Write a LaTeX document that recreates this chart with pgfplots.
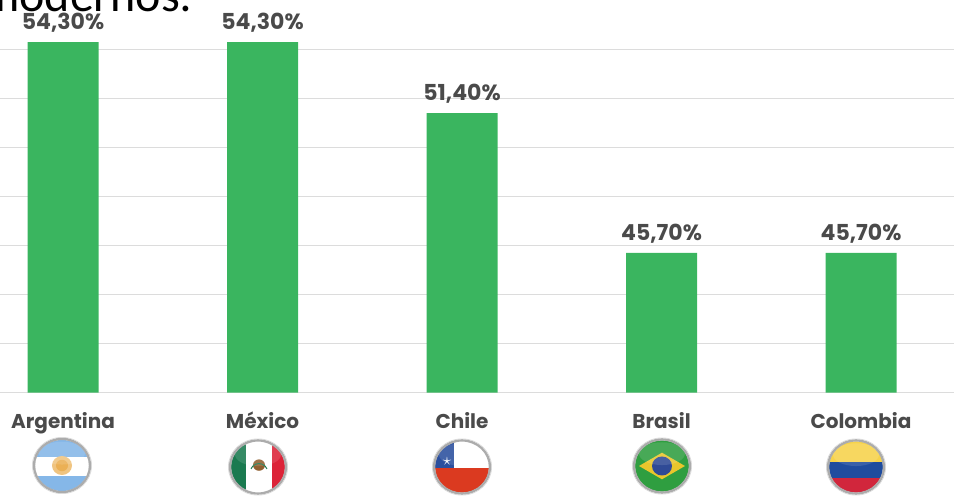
\documentclass[border=0pt]{standalone}
\usepackage{fontspec}
\usepackage{pgfplots}
\pgfplotsset{compat=1.18}
\setmainfont{Poppins}
\newfontfamily\carlito{Carlito}

\definecolor{barcol}{HTML}{3AB55F}
\definecolor{gridcol}{HTML}{DCDCDC}
\definecolor{labelcol}{HTML}{4A4A4A}
\definecolor{argblue}{HTML}{85B7E8}
\definecolor{argsun}{HTML}{EBB055}
\definecolor{mexgreen}{HTML}{1A7A50}
\definecolor{mexred}{HTML}{DC2338}
\definecolor{chiblue}{HTML}{2B4F9E}
\definecolor{chired}{HTML}{DB3A20}
\definecolor{bragreen}{HTML}{2F9E40}
\definecolor{brayellow}{HTML}{E9C62C}
\definecolor{brablue}{HTML}{2F4A96}
\definecolor{colyellow}{HTML}{F6D24A}
\definecolor{colblue}{HTML}{1F4C9E}
\definecolor{colred}{HTML}{D1263C}

% round flag: ring + clipped content, coordinates in pixels around the centre
\newcommand{\flag}[3]{%
  \begin{scope}[shift={(#1,#2)}, yscale=.95]
    \begin{scope}
      \clip (0,0) circle (27);
      #3
      \fill[white, opacity=.12] (0,-13) ellipse (23 and 12);
    \end{scope}
    \draw[gray!65, line width=2.4bp] (0,0) circle (28);
    \draw[gray!30, line width=0.7bp] (0,0) circle (29.6);
  \end{scope}}

\begin{document}
\begin{tikzpicture}
\useasboundingbox (0,-103.5bp) rectangle (954bp,392.5bp);
\begin{axis}[
    at={(0,0)}, anchor=south west,
    scale only axis, width=954bp, height=392.5bp,
    xmin=-0.316, xmax=4.466,
    ymin=40, ymax=56.02,
    clip=false,
    axis line style={draw=none},
    major tick length=0pt,
    ytick={40,42,44,46,48,50,52,54},
    yticklabels={},
    ymajorgrids,
    major grid style={gridcol, line width=0.9bp},
    xtick={0,1,2,3,4},
    xticklabels={Argentina,México,Chile,Brasil,Colombia},
    xticklabel style={font=\fontsize{20bp}{22bp}\selectfont\bfseries, text=labelcol, anchor=center,
        text height=14bp, text depth=4bp, yshift=-30.5bp},
    ybar, bar width=71bp, bar shift=0pt,
    nodes near coords,
    point meta=explicit symbolic,
    every node near coord/.append style={font=\fontsize{22bp}{24bp}\selectfont\bfseries, text=labelcol, anchor=center, yshift=19.5bp},
]
\addplot[fill=barcol, draw=none] coordinates {
    (0,54.3) [54,30\%]
    (1,54.3) [54,30\%]
    (2,51.4) [51,40\%]
    (3,45.7) [45,70\%]
    (4,45.7) [45,70\%]
};
\end{axis}

\begin{scope}[shift={(0,392.5bp)}, x=1bp, y=-1bp]
  \node[anchor=base east, inner sep=0pt, text=black, font=\carlito\fontsize{48bp}{50bp}\selectfont] at (193,12) {modernos:};

  % Argentina
  \flag{62}{465.5}{%
    \fill[white] (-30,-30) rectangle (30,30);
    \fill[argblue] (-30,-30) rectangle (30,-9);
    \fill[argblue] (-30,11) rectangle (30,30);
    \fill[argsun!75!white] (0,0) circle (10);
    \fill[argsun] (0,0) circle (6);
  }
  % Mexico
  \flag{258}{467}{%
    \fill[white] (-30,-30) rectangle (30,30);
    \fill[mexgreen] (-30,-30) rectangle (-12,30);
    \fill[mexred] (14,-30) rectangle (30,30);
    \fill[brown!75!black] (1,-2) circle (6);
    \draw[mexgreen, line width=1bp] (-7,2) arc (200:340:8.5);
  }
  % Chile
  \flag{462}{467}{%
    \fill[white] (-30,-30) rectangle (30,1);
    \fill[chiblue] (-30,-30) rectangle (-8,1);
    \fill[chired] (-30,1) rectangle (30,30);
    \node[text=white, inner sep=0pt, font=\fontsize{16bp}{16bp}\selectfont] at (-15,-6) {$\star$};
  }
  % Brasil
  \flag{662}{466}{%
    \fill[bragreen] (-30,-30) rectangle (30,30);
    \fill[brayellow] (-23,0) -- (0,-14) -- (23,0) -- (0,14) -- cycle;
    \fill[brablue] (0,0) circle (10);
  }
  % Colombia
  \flag{856}{467}{%
    \fill[colyellow] (-30,-30) rectangle (30,-5);
    \fill[colblue] (-30,-5) rectangle (30,12);
    \fill[colred] (-30,12) rectangle (30,30);
  }
\end{scope}
\end{tikzpicture}
\end{document}
